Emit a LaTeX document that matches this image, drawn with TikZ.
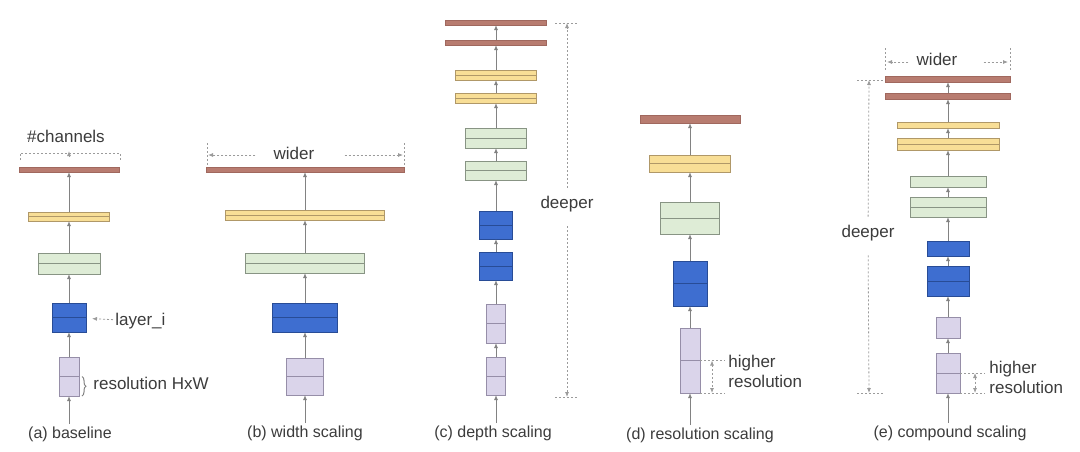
\documentclass[tikz,border=0pt]{standalone}
\usepackage{fontspec}
\setmainfont{Liberation Sans}
\usepackage{tikz}
\usetikzlibrary{arrows.meta,positioning,decorations.pathreplacing}
\definecolor{barfill}{RGB}{184,124,112}
\definecolor{barline}{RGB}{160,104,94}
\definecolor{yelfill}{RGB}{248,222,150}
\definecolor{yelline}{RGB}{176,152,104}
\definecolor{grnfill}{RGB}{222,236,214}
\definecolor{grnline}{RGB}{136,148,132}
\definecolor{blufill}{RGB}{62,110,208}
\definecolor{bluline}{RGB}{40,76,150}
\definecolor{lavfill}{RGB}{218,212,234}
\definecolor{lavline}{RGB}{150,142,168}
\definecolor{flowgray}{RGB}{130,130,130}
\definecolor{txtgray}{RGB}{60,60,60}
\tikzset{split/.style={path picture={\draw[#1,line width=0.5pt] (path picture bounding box.west) -- (path picture bounding box.east);}}}

\begin{document}
\begin{tikzpicture}[x=0.5pt,y=-0.5pt,>={Latex[length=2.5pt,width=2pt]}]
  \tikzstyle{box}=[rectangle,inner sep=0pt,outer sep=0pt,line width=0.5pt]
  \tikzstyle{bar}=[box,draw=barline,fill=barfill]
  \tikzstyle{yel}=[box,draw=yelline,fill=yelfill]
  \tikzstyle{grn}=[box,draw=grnline,fill=grnfill]
  \tikzstyle{blu}=[box,draw=bluline,fill=blufill]
  \tikzstyle{lav}=[box,draw=lavline,fill=lavfill]
  \tikzstyle{yels}=[yel,split=yelline]
  \tikzstyle{grns}=[grn,split=grnline]
  \tikzstyle{blus}=[blu,split=bluline]
  \tikzstyle{lavs}=[lav,split=lavline]
  \tikzstyle{flow}=[draw=flowgray,line width=0.5pt,->]
  \tikzstyle{guide}=[draw=flowgray!80,line width=0.4pt,dash pattern=on 1pt off 1pt]
  \tikzstyle{lbl}=[font=\fontsize{8.5}{10}\selectfont,text=txtgray,inner sep=1pt]
  \tikzstyle{caption}=[font=\fontsize{8}{10}\selectfont,text=txtgray,inner sep=1pt]
  \useasboundingbox[fill=white] (0,0) rectangle (1080,451);

  % (a) baseline
  \node[lavs,minimum width=10pt,minimum height=19.5pt] (lavA) at (69,376.5) {};
  \node[blus,minimum width=17pt,minimum height=14.5pt,above=12.5pt of lavA] (bluA) {};
  \node[grns,minimum width=31pt,minimum height=10.5pt,above=14.5pt of bluA] (grnA) {};
  \node[yels,minimum width=40.5pt,minimum height=4.5pt,above=16pt of grnA] (yelA) {};
  \node[bar,minimum width=50pt,minimum height=2.5pt,above=20pt of yelA] (barA) {};
  \node[caption] (capA) at (70,434) {(a) baseline};
  \draw[flow] (lavA |- capA.north) -- (lavA);
  \draw[flow] (lavA) -- (bluA);
  \draw[flow] (bluA) -- (grnA);
  \draw[flow] (grnA) -- (yelA);
  \draw[flow] (yelA) -- (barA);
  \node[lbl] (chanA) at (66,136) {\#channels};
  \draw[guide] (20,160) -- (20,153) -- (120,153) -- (120,160);
  \draw[guide,solid,->] (69,157) -- (69,151);
  \node[lbl,anchor=west] (layA) at (113,321) {layer\_i};
  \draw[guide,->,shorten >=3pt] (layA) -- (bluA);
  \draw[draw=flowgray,line width=0.5pt,decorate,decoration={brace,amplitude=2pt}]
    ([xshift=1.5pt]lavA.east) -- ([xshift=1.5pt]lavA.south east);
  \node[lbl,anchor=west] (resA) at (91,383) {resolution HxW};

  % (b) width scaling
  \node[lavs,minimum width=18.5pt,minimum height=18.5pt] (lavB) at (305,376.5) {};
  \node[blus,minimum width=32.5pt,minimum height=14.5pt,above=13pt of lavB] (bluB) {};
  \node[grns,minimum width=59.5pt,minimum height=10pt,above=15pt of bluB] (grnB) {};
  \node[yels,minimum width=79.5pt,minimum height=5pt,above=16.5pt of grnB] (yelB) {};
  \node[bar,minimum width=99pt,minimum height=2.5pt,above=19pt of yelB] (barB) {};
  \node[caption] (capB) at (305,433) {(b) width scaling};
  \draw[flow] (lavB |- capB.north) -- (lavB);
  \draw[flow] (lavB) -- (bluB);
  \draw[flow] (bluB) -- (grnB);
  \draw[flow] (grnB) -- (yelB);
  \draw[flow] (yelB) -- (barB);
  \node[lbl] (widB) at (294,153) {wider};
  \coordinate (bL) at (208,155);
  \coordinate (bR) at (403,155);
  \draw[guide] (207,143) -- (207,167);
  \draw[guide] (404,143) -- (404,167);
  \draw[guide,->,shorten <=8pt] (widB.west |- bL) -- (bL);
  \draw[guide,->,shorten <=14pt] (widB.east |- bR) -- (bR);

  % (c) depth scaling
  \node[lavs,minimum width=9.5pt,minimum height=19pt] (lavC2) at (496,376) {};
  \node[lavs,minimum width=9.5pt,minimum height=19.5pt,above=7pt of lavC2] (lavC1) {};
  \node[blus,minimum width=16.5pt,minimum height=14pt,above=12pt of lavC1] (bluC2) {};
  \node[blus,minimum width=16.5pt,minimum height=14pt,above=6.5pt of bluC2] (bluC1) {};
  \node[grns,minimum width=30.5pt,minimum height=9.5pt,above=15.5pt of bluC1] (grnC2) {};
  \node[grns,minimum width=30.5pt,minimum height=10pt,above=6.5pt of grnC2] (grnC1) {};
  \node[yels,minimum width=40.5pt,minimum height=5pt,above=12.5pt of grnC1] (yelC2) {};
  \node[yels,minimum width=40.5pt,minimum height=5pt,above=6.5pt of yelC2] (yelC1) {};
  \node[bar,minimum width=50.5pt,minimum height=2.5pt,above=12.5pt of yelC1] (barC2) {};
  \node[bar,minimum width=50.5pt,minimum height=2.5pt,above=7.5pt of barC2] (barC1) {};
  \node[caption] (capC) at (493,433) {(c) depth scaling};
  \draw[flow] (lavC2 |- capC.north) -- (lavC2);
  \draw[flow] (lavC2) -- (lavC1);
  \draw[flow] (lavC1) -- (bluC2);
  \draw[flow] (bluC2) -- (bluC1);
  \draw[flow] (bluC1) -- (grnC2);
  \draw[flow] (grnC2) -- (grnC1);
  \draw[flow] (grnC1) -- (yelC2);
  \draw[flow] (yelC2) -- (yelC1);
  \draw[flow] (yelC1) -- (barC2);
  \draw[flow] (barC2) -- (barC1);
  \node[lbl] (deepC) at (567,204) {deeper};
  \coordinate (cTop) at (567,23);
  \coordinate (cBot) at (567,397);
  \draw[guide,->,shorten <=3pt] (deepC) -- (cTop);
  \draw[guide,->,shorten <=6pt] (deepC) -- (cBot);
  \draw[guide] ([xshift=-6pt]cTop) -- ([xshift=6pt]cTop);
  \draw[guide] ([xshift=-6pt]cBot) -- ([xshift=6pt]cBot);

  % (d) resolution scaling
  \node[lavs,minimum width=10pt,minimum height=32.5pt] (lavD) at (690,360.5) {};
  \node[blus,minimum width=17pt,minimum height=22.5pt,above=11pt of lavD] (bluD) {};
  \node[grns,minimum width=29.5pt,minimum height=16pt,above=13.5pt of bluD] (grnD) {};
  \node[yels,minimum width=40.5pt,minimum height=8.5pt,above=15pt of grnD] (yelD) {};
  \node[bar,minimum width=50pt,minimum height=4pt,above=16pt of yelD] (barD) {};
  \node[caption] (capD) at (700,435) {(d) resolution scaling};
  \draw[flow] (lavD |- capD.north) -- (lavD);
  \draw[flow] (lavD) -- (bluD);
  \draw[flow] (bluD) -- (grnD);
  \draw[flow] (grnD) -- (yelD);
  \draw[flow] (yelD) -- (barD);
  \draw[guide] (lavD.east) -- ++(12.5pt,0);
  \draw[guide] (lavD.south east) -- ++(12.5pt,0);
  \draw[guide,<->] ([xshift=6pt]lavD.east) -- ([xshift=6pt]lavD.south east);
  \node[lbl,align=left,anchor=west] (hiD) at (726,371) {higher\\resolution};

  % (e) compound scaling
  \node[lavs,minimum width=12pt,minimum height=20pt] (lavE2) at (948,373) {};
  \node[lav,minimum width=12pt,minimum height=10.5pt,above=7.5pt of lavE2] (lavE1) {};
  \node[blus,minimum width=21pt,minimum height=15pt,above=10.5pt of lavE1] (bluE2) {};
  \node[blu,minimum width=21pt,minimum height=7.5pt,above=5pt of bluE2] (bluE1) {};
  \node[grns,minimum width=38pt,minimum height=10pt,above=12pt of bluE1] (grnE2) {};
  \node[grn,minimum width=38pt,minimum height=5.5pt,above=5pt of grnE2] (grnE1) {};
  \node[yels,minimum width=51pt,minimum height=6pt,above=13pt of grnE1] (yelE2) {};
  \node[yel,minimum width=51pt,minimum height=3pt,above=5pt of yelE2] (yelE1) {};
  \node[bar,minimum width=62.5pt,minimum height=3pt,above=11.5pt of yelE1] (barE2) {};
  \node[bar,minimum width=62.5pt,minimum height=3pt,above=5.5pt of barE2] (barE1) {};
  \node[caption] (capE) at (950,433) {(e) compound scaling};
  \draw[flow] (lavE2 |- capE.north) -- (lavE2);
  \draw[flow] (lavE2) -- (lavE1);
  \draw[flow] (lavE1) -- (bluE2);
  \draw[flow] (bluE2) -- (bluE1);
  \draw[flow] (bluE1) -- (grnE2);
  \draw[flow] (grnE2) -- (grnE1);
  \draw[flow] (grnE1) -- (yelE2);
  \draw[flow] (yelE2) -- (yelE1);
  \draw[flow] (yelE1) -- (barE2);
  \draw[flow] (barE2) -- (barE1);
  \node[lbl] (widE) at (937,59) {wider};
  \coordinate (eL) at (887,62);
  \coordinate (eR) at (1008,62);
  \draw[guide] (885,48) -- (885,72);
  \draw[guide] (1010,48) -- (1010,72);
  \draw[guide,->,shorten <=3pt] (widE.west |- eL) -- (eL);
  \draw[guide,->,shorten <=12pt] (widE.east |- eR) -- (eR);
  \node[lbl] (deepE) at (868,233) {deeper};
  \coordinate (eTop) at (869,80);
  \coordinate (eBot) at (869,393);
  \draw[guide,->,shorten <=3pt] (deepE) -- (eTop);
  \draw[guide,->,shorten <=6pt] (deepE) -- (eBot);
  \draw[guide] ([xshift=-6pt]eTop) -- ([xshift=7pt]eTop);
  \draw[guide] ([xshift=-6pt]eBot) -- ([xshift=7pt]eBot);
  \draw[guide] (lavE2.east) -- ++(12.5pt,0);
  \draw[guide] (lavE2.south east) -- ++(12.5pt,0);
  \draw[guide,<->] ([xshift=7.5pt]lavE2.east) -- ([xshift=7.5pt]lavE2.south east);
  \node[lbl,align=left,anchor=west] (hiE) at (987,377) {higher\\resolution};
\end{tikzpicture}
\end{document}
